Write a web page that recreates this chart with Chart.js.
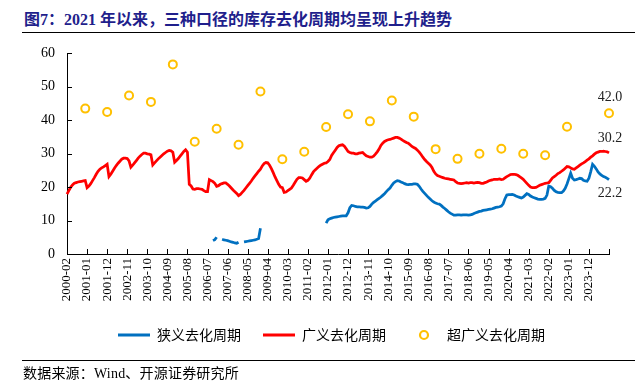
<!DOCTYPE html>
<html><head><meta charset="utf-8">
<script src="https://cdn.jsdelivr.net/npm/chart.js@4.4.1/dist/chart.umd.min.js"></script>
<style>
html,body{margin:0;padding:0;background:#fff;width:635px;height:383px;overflow:hidden;position:relative}
#c{position:absolute;left:0;top:0}
#title{position:absolute;left:24px;top:6px;font:bold 16px "Liberation Serif","Noto Sans CJK SC";color:#1f1f8c;white-space:nowrap}
.rule{position:absolute;left:22px;width:613px;height:1px;background:#000}
#src{position:absolute;left:23px;top:362px;font:14px "Liberation Serif","Noto Sans CJK SC";letter-spacing:0.2px;color:#000;white-space:nowrap}
</style></head>
<body>
<div id="title">图7：2021 年以来，三种口径的库存去化周期均呈现上升趋势</div>
<div class="rule" style="top:32px"></div>
<canvas id="c" width="635" height="383"></canvas>
<div class="rule" style="top:360px"></div>
<div id="src">数据来源：Wind、开源证券研究所</div>
<script>
// Monthly categories: 2000-02 .. 2024-11
const firstMonth = [2000, 2];
const monthCount = 298;
const months = [];
for (let k = 0; k < monthCount; k++) {
  const m = firstMonth[1] - 1 + k;
  const yy = firstMonth[0] + Math.floor(m / 12);
  const mm = (m % 12) + 1;
  months.push(yy + '-' + (mm < 10 ? '0' : '') + mm);
}

// 广义去化周期 (monthly, from 2000-02)
const broad = [].concat(
  [17.9, 18.9, 19.9, 20.6, 21.1, 21.3, 21.5, 21.6, 21.7, 21.8, 21.9],            // 2000 Feb-Dec
  [19.8, 20.3, 21.0, 21.9, 22.8, 23.8, 24.7, 25.3, 25.7, 26.0, 26.4, 26.8],      // 2001
  [23.1, 23.8, 24.7, 25.6, 26.4, 27.1, 27.7, 28.3, 28.6, 28.6, 28.5, 27.8],      // 2002
  [25.9, 26.5, 27.2, 27.9, 28.6, 29.2, 29.7, 30.1, 30.1, 29.9, 29.8, 29.6],      // 2003
  [26.6, 27.2, 27.8, 28.4, 28.9, 29.4, 29.9, 30.3, 30.7, 30.9, 30.8, 30.4],      // 2004
  [27.4, 27.9, 28.5, 29.2, 29.9, 30.6, 31.1, 30.4, 20.8, 20.3, 19.4, 19.3],      // 2005
  [19.5, 19.5, 19.4, 19.3, 18.9, 18.6, 18.6, 22.2, 21.9, 21.6, 21.1, 20.2],      // 2006
  [20.4, 20.8, 21.0, 21.2, 21.2, 20.8, 20.3, 19.7, 19.1, 18.6, 18.1, 17.4],      // 2007
  [17.8, 18.4, 19.0, 19.7, 20.4, 21.1, 21.8, 22.6, 23.3, 24.0, 24.7, 25.3],      // 2008
  [26.3, 27.0, 27.3, 27.2, 26.5, 25.5, 24.3, 23.0, 21.9, 20.8, 20.0, 19.8],      // 2009
  [18.4, 18.5, 18.9, 19.3, 19.7, 20.5, 21.4, 22.3, 22.8, 22.8, 22.7, 22.2],      // 2010
  [21.7, 22.0, 22.6, 23.6, 24.5, 25.1, 25.6, 26.1, 26.5, 26.8, 27.1, 27.2],      // 2011
  [27.6, 28.2, 29.4, 30.2, 31.0, 31.8, 32.3, 32.5, 32.6, 32.2, 31.4, 30.6],      // 2012
  [30.3, 30.1, 30.1, 29.9, 29.9, 30.1, 30.2, 30.3, 29.8, 29.3, 29.1, 28.9],      // 2013
  [28.9, 29.2, 29.8, 30.5, 31.3, 32.4, 33.1, 33.6, 33.9, 34.1, 34.2, 34.4],      // 2014
  [34.6, 34.8, 34.8, 34.6, 34.3, 33.9, 33.6, 33.3, 33.1, 32.6, 32.1, 31.8],      // 2015
  [31.5, 31.0, 30.4, 29.7, 28.9, 28.2, 27.6, 27.1, 26.6, 25.8, 24.7, 23.9],      // 2016
  [23.4, 23.2, 23.0, 22.8, 22.6, 22.5, 22.4, 22.3, 22.2, 22.1, 21.6, 21.2],      // 2017
  [21.1, 21.0, 21.1, 21.2, 21.3, 21.2, 21.3, 21.3, 21.2, 21.3, 21.4, 21.3],      // 2018
  [21.1, 21.1, 21.3, 21.5, 21.8, 22.0, 22.1, 22.3, 22.3, 22.3, 22.4, 22.2],      // 2019
  [22.3, 22.7, 23.1, 23.4, 23.7, 23.8, 23.8, 23.7, 23.5, 23.1, 22.7, 22.3],      // 2020
  [21.7, 21.1, 20.5, 20.0, 19.8, 19.8, 19.9, 20.2, 20.5, 20.7, 20.9, 21.1],      // 2021
  [21.2, 21.3, 22.0, 22.7, 23.1, 23.5, 24.0, 24.3, 24.7, 25.1, 25.6, 26.1],      // 2022
  [26.0, 25.7, 25.4, 25.3, 25.7, 26.1, 26.5, 26.9, 27.2, 27.6, 28.0, 28.4],      // 2023
  [28.9, 29.3, 29.8, 30.2, 30.4, 30.6, 30.6, 30.7, 30.6, 30.5, 30.2]             // 2024 Jan-Nov
);

// 狭义去化周期 (monthly, starts 2006-10; null = no data)
const narrowStart = '2006-10';
const narrow = [].concat(
  [4.0, 4.3, 5.0],                                                                 // 2006 Oct-Dec
  [null, null, 4.4, 4.2, 4.1, 4.0, 3.8, 3.6, 3.5, 3.3, 3.2, 3.5],                 // 2007
  [null, null, 3.6, 3.7, 3.8, 3.9, 4.0, 4.1, 4.2, 4.4, 4.6, 7.7],                 // 2008
  [null, null, null, null, null, null, null, null, null, null, null, null],       // 2009
  [null, null, null, null, null, null, null, null, null, null, null, null],       // 2010
  [null, null, null, null, null, null, null, null, null, null, null, 9.2],        // 2011
  [10.2, 10.5, 10.7, 10.9, 11.0, 11.1, 11.2, 11.3, 11.4, 11.4, 11.4, 12.3],      // 2012
  [13.8, 14.5, 14.4, 14.2, 14.1, 14.1, 14.0, 14.0, 13.9, 13.7, 13.8, 14.2],      // 2013
  [14.9, 15.4, 15.8, 16.2, 16.6, 17.0, 17.5, 18.0, 18.6, 19.2, 19.7, 20.5],      // 2014
  [21.2, 21.6, 21.9, 21.8, 21.5, 21.3, 21.0, 20.8, 20.7, 20.8, 20.8, 20.9],      // 2015
  [20.9, 20.8, 20.2, 19.4, 18.7, 18.1, 17.5, 16.9, 16.4, 15.9, 15.5, 15.2],      // 2016
  [15.0, 14.9, 14.5, 14.0, 13.6, 13.1, 12.6, 12.2, 11.9, 11.6, 11.6, 11.7],      // 2017
  [11.7, 11.6, 11.7, 11.7, 11.7, 11.6, 11.7, 11.8, 12.1, 12.3, 12.5, 12.7],      // 2018
  [12.8, 13.0, 13.1, 13.2, 13.3, 13.4, 13.5, 13.7, 13.9, 14.0, 14.1, 14.3],      // 2019
  [15.0, 16.5, 17.6, 17.7, 17.7, 17.8, 17.6, 17.3, 17.1, 16.9, 16.7, 17.0],      // 2020
  [17.5, 18.0, 17.8, 17.3, 17.0, 16.8, 16.6, 16.4, 16.3, 16.3, 16.4, 16.6],      // 2021
  [17.6, 20.3, 20.1, 19.6, 19.0, 18.6, 18.4, 18.3, 18.3, 18.8, 19.6, 20.9],      // 2022
  [22.5, 24.1, 22.6, 22.1, 22.2, 22.4, 22.6, 22.5, 22.0, 21.8, 21.7, 22.6],      // 2023
  [24.6, 26.8, 26.2, 25.4, 24.5, 23.9, 23.5, 23.1, 22.9, 22.6, 22.2]             // 2024 Jan-Nov
);

// 超广义去化周期 (year-end points + latest)
const superMonths = ['2000-12','2001-12','2002-12','2003-12','2004-12','2005-12','2006-12','2007-12',
  '2008-12','2009-12','2010-12','2011-12','2012-12','2013-12','2014-12','2015-12','2016-12','2017-12',
  '2018-12','2019-12','2020-12','2021-12','2022-12','2024-11'];
const superValues = [43.4, 42.4, 47.3, 45.4, 56.6, 33.5, 37.4, 32.6, 48.5, 28.3, 30.5, 37.9,
  41.7, 39.6, 45.8, 41.0, 31.3, 28.4, 29.9, 31.4, 29.9, 29.5, 38.0, 42.0];

const labelEvery = 11;

// align series to categories
const narrowFull = months.map(() => null);
const ns = months.indexOf(narrowStart);
narrow.forEach((v, k) => { narrowFull[ns + k] = v; });
const superFull = months.map(() => null);
superMonths.forEach((m, k) => { superFull[months.indexOf(m)] = superValues[k]; });

// legend ring marker
const ring = document.createElement('canvas');
ring.width = 14; ring.height = 14;
(function(){ const g = ring.getContext('2d'); g.strokeStyle = '#FFC000'; g.lineWidth = 2.2;
  g.beginPath(); g.arc(7, 7, 4, 0, Math.PI * 2); g.stroke(); })();

const tickMarks = {
  id: 'tickMarks',
  afterDatasetsDraw(chart) {
    const {ctx, scales: {x, y}, chartArea: a} = chart;
    ctx.save(); ctx.strokeStyle = '#000'; ctx.lineWidth = 1; ctx.beginPath();
    for (let i = 0; i < months.length; i += labelEvery) {
      const px = Math.round(x.getPixelForValue(i)) + 0.5;
      ctx.moveTo(px, a.bottom); ctx.lineTo(px, a.bottom - 5);
    }
    y.ticks.forEach(t => {
      const py = Math.round(y.getPixelForValue(t.value)) + 0.5;
      ctx.moveTo(a.left, py); ctx.lineTo(a.left + 5, py);
    });
    ctx.stroke(); ctx.restore();
  }
};

const endLabels = {
  id: 'endLabels',
  afterDatasetsDraw(chart) {
    const ctx = chart.ctx; const last = months.length - 1;
    ctx.save(); ctx.font = '14px "Liberation Serif"'; ctx.fillStyle = '#222';
    ctx.textAlign = 'center'; ctx.textBaseline = 'middle';
    [[2, -16], [1, -15], [0, 14]].forEach(([d, dy]) => {
      const el = chart.getDatasetMeta(d).data[last];
      const v = chart.data.datasets[d].data[last];
      ctx.fillText(v.toFixed(1), el.x + 1, el.y + dy);
    });
    ctx.restore();
  }
};

// shift the legend box so that its items are centred like the reference
const legendShift = {
  id: 'legendShift',
  afterLayout(chart) { if (chart.legend) { chart.legend.left = 54; } }
};

new Chart(document.getElementById('c'), {
  type: 'line',
  data: {
    labels: months,
    datasets: [
      {label: '狭义去化周期', data: narrowFull, borderColor: '#0070C0', backgroundColor: '#0070C0',
       borderWidth: 2.75, pointRadius: 0, spanGaps: false, clip: false},
      {label: '广义去化周期', data: broad, borderColor: '#FF0000', backgroundColor: '#FF0000',
       borderWidth: 2.75, pointRadius: 0, clip: false},
      {label: '超广义去化周期', data: superFull, showLine: false, borderColor: '#FFC000',
       backgroundColor: '#FFFFFF', pointRadius: 4, pointBorderWidth: 2, pointHoverRadius: 4, clip: false}
    ]
  },
  options: {
    responsive: false, animation: false,
    layout: {padding: {top: 53, left: 0, right: 26, bottom: 31}},
    plugins: {
      tooltip: {enabled: false},
      legend: {
        position: 'bottom',
        labels: {
          usePointStyle: true, pointStyleWidth: 32, padding: 22, color: '#000',
          font: {family: '"Noto Sans CJK SC"', size: 14},
          generateLabels(chart) {
            const items = Chart.defaults.plugins.legend.labels.generateLabels(chart);
            items[0].pointStyle = 'line'; items[0].lineWidth = 3; items[0].strokeStyle = '#0070C0';
            items[1].pointStyle = 'line'; items[1].lineWidth = 3; items[1].strokeStyle = '#FF0000';
            items[2].pointStyle = ring;
            return items;
          }
        }
      }
    },
    scales: {
      x: {
        type: 'category',
        grid: {display: true, drawOnChartArea: false, drawTicks: false},
        border: {display: true, color: '#000', width: 1},
        ticks: {
          autoSkip: false, minRotation: 90, maxRotation: 90, padding: 4, color: '#000',
          font: {family: '"Liberation Serif"', size: 13},
          callback(v, i) { return (i % labelEvery === 0 && i < months.length - 1) ? months[i] : null; }
        },
        afterFit(s) { s.height = 52; }
      },
      y: {
        min: 0, max: 60,
        grid: {display: true, drawOnChartArea: false, drawTicks: false},
        border: {display: true, color: '#000', width: 1},
        ticks: {stepSize: 10, padding: 12, color: '#000', font: {family: '"Liberation Serif"', size: 14}},
        afterFit(s) { s.width = 67; }
      }
    }
  },
  plugins: [tickMarks, endLabels, legendShift]
});
</script>
</body></html>
